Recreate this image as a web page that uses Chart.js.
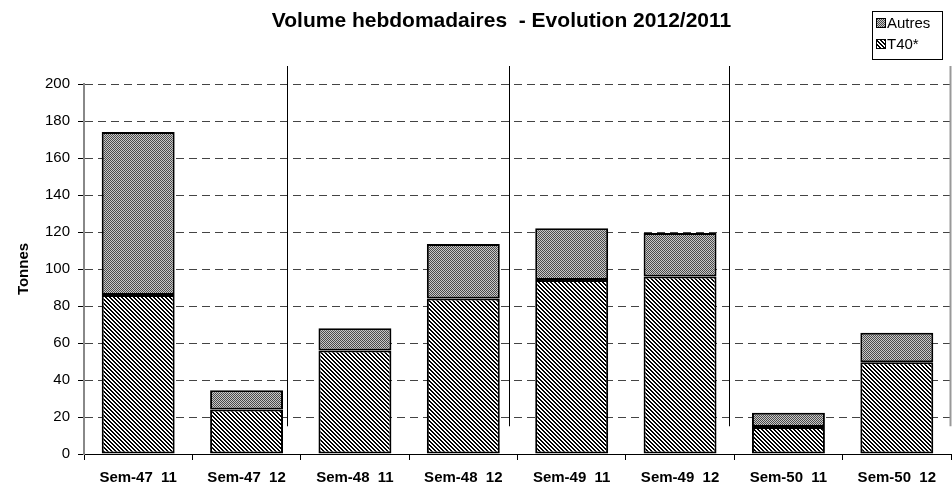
<!DOCTYPE html>
<html><head><meta charset="utf-8">
<script src="https://cdn.jsdelivr.net/npm/chart.js@4.4.0/dist/chart.umd.min.js"></script>
<style>html,body{margin:0;padding:0;background:#fff;}#wrap{width:952px;height:485px;position:relative;}</style>
</head><body><div id="wrap"><canvas id="c" width="952" height="485"></canvas></div>
<script>
const categories = ['Sem-47  11','Sem-47  12','Sem-48  11','Sem-48  12','Sem-49  11','Sem-49  12','Sem-50  11','Sem-50  12'];
const t40Values = [86, 24, 56, 84, 94, 96, 14.6, 49.6];
const autresValues = [88, 10.4, 12, 29.5, 28, 23.5, 7.7, 16];
const yMin = 0, yMax = 200, yStep = 20;
const titleText = 'Volume hebdomadaires  - Evolution 2012/2011';
const yTitle = 'Tonnes';
const FONT = '"Liberation Sans", Arial, sans-serif';

const canvas = document.getElementById('c');
const ctx = canvas.getContext('2d');
function makePattern(size, draw){
  const c = document.createElement('canvas'); c.width = size; c.height = size;
  const p = c.getContext('2d'); draw(p, size); return ctx.createPattern(c, 'repeat');
}
const stripePattern = makePattern(4, (p, s) => {
  p.fillStyle = '#fff'; p.fillRect(0,0,s,s); p.fillStyle = '#000';
  for (let y=0;y<s;y++) for (let x=0;x<s;x++) if (((x - y) % s + s) % s < 2) p.fillRect(x,y,1,1);
});
const checkPattern = makePattern(2, (p, s) => {
  p.fillStyle = '#c8c8c8'; p.fillRect(0,0,s,s); p.fillStyle = '#4a4a4a';
  p.fillRect(0,0,1,1); p.fillRect(1,1,1,1);
});

const decor = {
  id: 'decor',
  beforeDatasetsDraw(chart){
    const {ctx, chartArea: a, scales: {y}} = chart;
    const fr = [0.2353, 0.4913, 0.745, 1.0];
    ctx.save();
    fr.forEach((f, i) => {
      const x = Math.round(a.left + f * (a.right - a.left)) - 0.5;
      ctx.strokeStyle = i < 3 ? '#000' : '#999';
      ctx.lineWidth = i < 3 ? 1 : 2;
      ctx.beginPath(); ctx.moveTo(x, a.top - 18); ctx.lineTo(x, y.getPixelForValue(15)); ctx.stroke();
    });
    ctx.restore();
  },
  afterDraw(chart){
    const {ctx, chartArea: a} = chart;
    ctx.save();
    ctx.fillStyle = '#000';
    ctx.font = 'bold 21px ' + FONT;
    ctx.textAlign = 'center'; ctx.textBaseline = 'middle';
    ctx.fillText(titleText, (a.left + a.right) / 2 - 16, 21);
    // legend
    ctx.strokeStyle = '#000'; ctx.lineWidth = 1;
    ctx.fillStyle = '#fff';
    ctx.fillRect(872, 11, 70, 48);
    ctx.strokeRect(872.5, 11.5, 70, 48);
    const items = [[chart.data.datasets[1].label, checkPattern, 23], [chart.data.datasets[0].label, stripePattern, 44]];
    ctx.font = '15px ' + FONT; ctx.textAlign = 'left';
    items.forEach(([lab, pat, yy]) => {
      ctx.fillStyle = pat; ctx.fillRect(877, yy - 4, 8, 8);
      ctx.strokeRect(876.5, yy - 4.5, 9, 9);
      ctx.fillStyle = '#000'; ctx.fillText(lab, 887, yy + 1);
    });
    ctx.restore();
  }
};

new Chart(canvas, {
  type: 'bar',
  data: {
    labels: categories,
    datasets: [
      { label: 'T40*', data: t40Values, backgroundColor: stripePattern, borderColor: '#000', borderWidth: 2, borderSkipped: false, barPercentage: 0.673, categoryPercentage: 1 },
      { label: 'Autres', data: autresValues, backgroundColor: checkPattern, borderColor: '#000', borderWidth: 2, borderSkipped: false, barPercentage: 0.673, categoryPercentage: 1 }
    ]
  },
  options: {
    responsive: false, animation: false,
    layout: { padding: { top: 84, right: 1, bottom: -11, left: 0 } },
    plugins: { legend: { display: false }, title: { display: false }, tooltip: { enabled: false } },
    scales: {
      x: {
        stacked: true,
        grid: { display: true, drawOnChartArea: false, drawTicks: true, tickLength: 6, tickColor: '#000', offset: true },
        border: { display: true, color: '#000', width: 1 },
        ticks: { color: '#000', font: { family: FONT, size: 15, weight: 'bold' }, padding: 9, maxRotation: 0, autoSkip: false }
      },
      y: {
        stacked: true, min: yMin, max: yMax,
        afterFit(s){ s.width = 84; },
        title: { display: true, text: yTitle, color: '#000', font: { family: FONT, size: 15, weight: 'bold' }, padding: { top: 15, bottom: 0 } },
        grid: { color: '#444', lineWidth: 1, tickColor: '#000', tickLength: 6, drawTicks: true },
        border: { display: true, color: '#888', width: 2, dash: [8, 5] },
        ticks: { stepSize: yStep, color: '#000', font: { family: FONT, size: 15 }, padding: 8 }
      }
    }
  },
  plugins: [decor]
});
</script></body></html>
